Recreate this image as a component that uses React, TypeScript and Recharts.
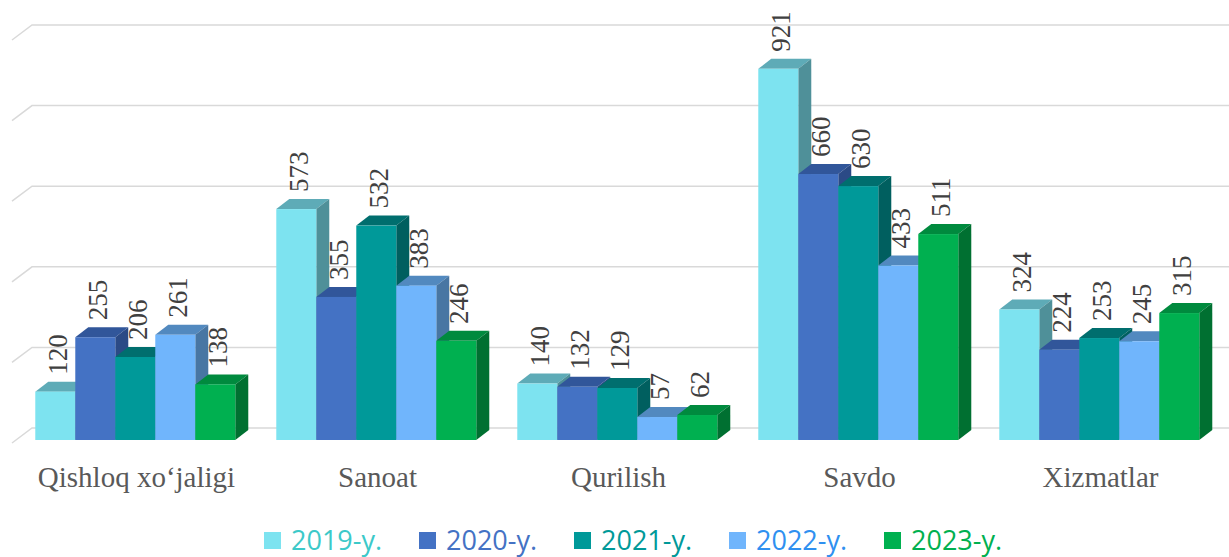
import { Bar, BarChart, CartesianGrid, LabelList, Legend, XAxis, YAxis } from "recharts";

const categories = ["Qishloq xo‘jaligi", "Sanoat", "Qurilish", "Savdo", "Xizmatlar"];
const y2019 = [120, 573, 140, 921, 324];
const y2020 = [255, 355, 132, 660, 224];
const y2021 = [206, 532, 129, 630, 253];
const y2022 = [261, 383, 57, 433, 245];
const y2023 = [138, 246, 62, 511, 315];
const yTicks = [0, 200, 400, 600, 800, 1000];

const series = [
  { key: "y2019", name: "2019-y.", front: "#7DE3F0", top: "#5EABB7", side: "#4F9099", text: "#3CC9C9" },
  { key: "y2020", name: "2020-y.", front: "#4472C4", top: "#31569A", side: "#2B4A86", text: "#4472C4" },
  { key: "y2021", name: "2021-y.", front: "#009999", top: "#006E6E", side: "#005F5F", text: "#009999" },
  { key: "y2022", name: "2022-y.", front: "#70B5FC", top: "#5289BF", side: "#4876A3", text: "#2F90F0" },
  { key: "y2023", name: "2023-y.", front: "#00B050", top: "#008A3E", side: "#007031", text: "#00B050" },
];

const data = categories.map((name, i) => ({
  name,
  y2019: y2019[i],
  y2020: y2020[i],
  y2021: y2021[i],
  y2022: y2022[i],
  y2023: y2023[i],
}));

const DX = 13;
const DY = 10;
const serif = "'Liberation Serif', 'Times New Roman', serif";

function bar3d(front: string, top: string, side: string) {
  return (props: any) => {
    const { x, y, width: w, height: h } = props;
    return (
      <g>
        <path d={`M${x},${y} L${x + DX},${y - DY} L${x + w + DX},${y - DY} L${x + w},${y} Z`} fill={top} />
        <path d={`M${x + w},${y} L${x + w + DX},${y - DY} L${x + w + DX},${y + h - DY} L${x + w},${y + h} Z`} fill={side} />
        <rect x={x} y={y} width={w} height={h} fill={front} />
      </g>
    );
  };
}

function ValueLabel(props: any) {
  const { x, y, width, value } = props;
  const cx = x + width / 2 + 3;
  const cy = y - 17;
  return (
    <text
      x={cx}
      y={cy}
      transform={`rotate(-90 ${cx} ${cy})`}
      dominantBaseline="central"
      style={{ fontFamily: serif, fontSize: 27, fill: "#404040" }}
    >
      {value}
    </text>
  );
}

function GridLine(props: any) {
  const { x1, x2, y1 } = props;
  const back = y1 - 12;
  return (
    <path
      key={props.key}
      d={`M${x1 - 4},${back + 15} L${x1 + 16},${back} L${x2 + 8},${back}`}
      stroke="#D9D9D9"
      strokeWidth={1.5}
      fill="none"
    />
  );
}

function CategoryTick(props: any) {
  const { x, y, payload } = props;
  return (
    <text x={x} y={y + 39} textAnchor="middle" style={{ fontFamily: serif, fontSize: 29, fill: "#595959" }}>
      {payload.value}
    </text>
  );
}

function LegendBox() {
  return (
    <div style={{ height: 37, display: "flex", alignItems: "center", paddingLeft: 264, paddingTop: 3, boxSizing: "border-box" }}>
      {series.map((s) => (
        <div key={s.key} style={{ display: "flex", alignItems: "center", marginRight: 34 }}>
          <span style={{ width: 17, height: 17, background: s.front, marginRight: 10, display: "inline-block" }} />
          <span style={{ fontFamily: "'Open Sans', sans-serif", fontSize: 27, color: s.text, width: 94, lineHeight: "34px" }}>
            {s.name}
          </span>
        </div>
      ))}
    </div>
  );
}

export default function App() {
  return (
    <div style={{ position: "absolute", left: 0, top: 0, background: "#fff" }}>
      <BarChart
        width={1229}
        height={557}
        data={data}
        margin={{ top: 37, right: 8, bottom: 0, left: 16 }}
        barCategoryGap="8%"
        barGap={0}
      >
        <CartesianGrid vertical={false} horizontal={GridLine} />
        <XAxis dataKey="name" axisLine={false} tickLine={false} height={80} tick={CategoryTick} interval={0} />
        <YAxis hide domain={[0, 1000]} ticks={yTicks} />
        <Legend
          verticalAlign="bottom"
          content={LegendBox}
          wrapperStyle={{ left: 0, width: 1229, height: 37 }}
        />
        {series.map((s) => (
          <Bar
            key={s.key}
            dataKey={s.key}
            name={s.name}
            fill={s.front}
            shape={bar3d(s.front, s.top, s.side)}
            isAnimationActive={false}
          >
            <LabelList dataKey={s.key} content={ValueLabel} />
          </Bar>
        ))}
      </BarChart>
    </div>
  );
}
